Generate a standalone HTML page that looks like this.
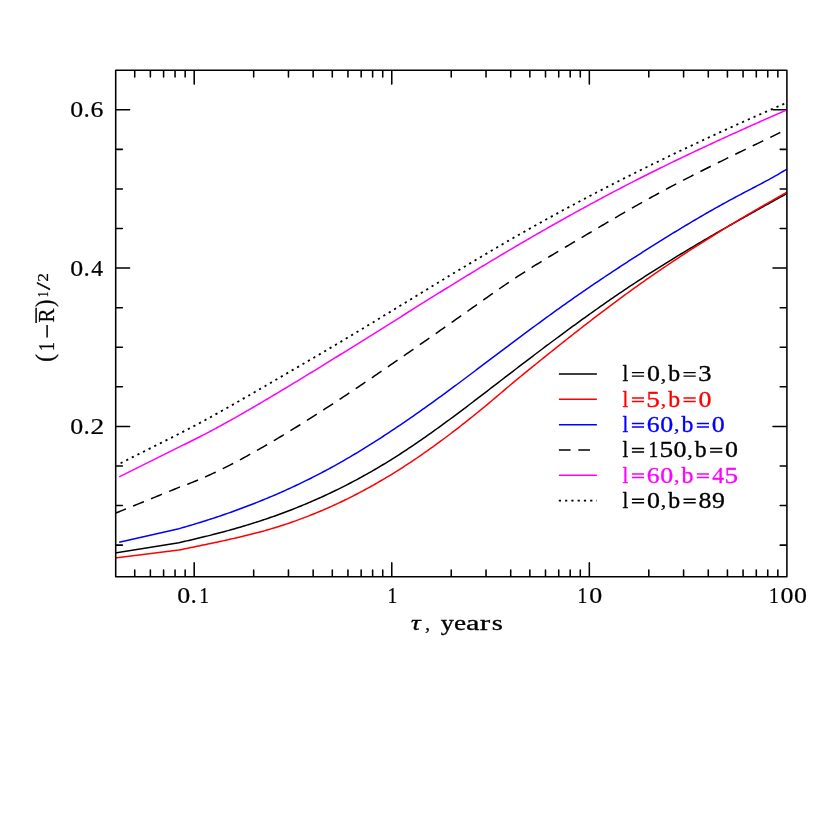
<!DOCTYPE html>
<html><head><meta charset="utf-8"><title>chart</title>
<style>html,body{margin:0;padding:0;background:#fff;}body{width:830px;height:830px;overflow:hidden;font-family:"Liberation Serif",serif;}svg{display:block;will-change:transform;}</style>
</head><body>
<svg width="830" height="830" viewBox="0 0 830 830">
<rect width="830" height="830" fill="#fff"/>
<path d="M134.73 576.10v-6.00M134.73 70.90v6.00M150.37 576.10v-6.00M150.37 70.90v6.00M163.60 576.10v-6.00M163.60 70.90v6.00M175.05 576.10v-6.00M175.05 70.90v6.00M185.16 576.10v-6.00M185.16 70.90v6.00M194.20 576.10v-13.20M194.20 70.90v13.20M253.67 576.10v-6.00M253.67 70.90v6.00M288.46 576.10v-6.00M288.46 70.90v6.00M313.15 576.10v-6.00M313.15 70.90v6.00M332.29 576.10v-6.00M332.29 70.90v6.00M347.94 576.10v-6.00M347.94 70.90v6.00M361.16 576.10v-6.00M361.16 70.90v6.00M372.62 576.10v-6.00M372.62 70.90v6.00M382.73 576.10v-6.00M382.73 70.90v6.00M391.77 576.10v-13.20M391.77 70.90v13.20M451.24 576.10v-6.00M451.24 70.90v6.00M486.03 576.10v-6.00M486.03 70.90v6.00M510.71 576.10v-6.00M510.71 70.90v6.00M529.86 576.10v-6.00M529.86 70.90v6.00M545.50 576.10v-6.00M545.50 70.90v6.00M558.73 576.10v-6.00M558.73 70.90v6.00M570.19 576.10v-6.00M570.19 70.90v6.00M580.29 576.10v-6.00M580.29 70.90v6.00M589.33 576.10v-13.20M589.33 70.90v13.20M648.81 576.10v-6.00M648.81 70.90v6.00M683.60 576.10v-6.00M683.60 70.90v6.00M708.28 576.10v-6.00M708.28 70.90v6.00M727.43 576.10v-6.00M727.43 70.90v6.00M743.07 576.10v-6.00M743.07 70.90v6.00M756.30 576.10v-6.00M756.30 70.90v6.00M767.75 576.10v-6.00M767.75 70.90v6.00M777.86 576.10v-6.00M777.86 70.90v6.00M116.40 545.14h6.00M786.20 545.14h-6.00M116.40 505.56h6.00M786.20 505.56h-6.00M116.40 465.98h6.00M786.20 465.98h-6.00M116.40 426.40h13.20M786.20 426.40h-13.20M116.40 386.82h6.00M786.20 386.82h-6.00M116.40 347.25h6.00M786.20 347.25h-6.00M116.40 307.67h6.00M786.20 307.67h-6.00M116.40 268.09h13.20M786.20 268.09h-13.20M116.40 228.51h6.00M786.20 228.51h-6.00M116.40 188.93h6.00M786.20 188.93h-6.00M116.40 149.36h6.00M786.20 149.36h-6.00M116.40 109.78h13.20M786.20 109.78h-13.20" stroke="#000" stroke-width="1.55" stroke-linecap="round" fill="none"/>
<defs><clipPath id="cp"><rect x="115.7" y="70.2" width="671.1999999999999" height="506.59999999999997"/></clipPath></defs>
<g clip-path="url(#cp)"><path d="M120.60 463.20L122.60 462.20L124.60 461.19L126.60 460.19L128.60 459.18L130.60 458.18L132.60 457.17L134.60 456.17L136.60 455.16L138.60 454.16L140.60 453.15L142.60 452.15L144.60 451.14L146.60 450.14L148.60 449.13L150.60 448.12L152.60 447.12L154.60 446.11L156.60 445.11L158.60 444.10L160.60 443.10L162.60 442.09L164.60 441.09L166.60 440.08L168.60 439.08L170.60 438.07L172.60 437.07L174.60 436.06L176.60 435.06L178.60 434.05L178.90 433.90L180.90 432.88L182.90 431.86L184.90 430.83L186.90 429.79L188.90 428.74L190.90 427.70L192.90 426.64L194.90 425.58L196.90 424.52L198.90 423.45L200.90 422.37L202.90 421.29L204.90 420.21L206.90 419.12L208.90 418.02L210.90 416.93L212.90 415.82L214.90 414.72L216.90 413.61L218.90 412.49L220.90 411.38L222.90 410.26L224.90 409.13L226.90 408.00L228.90 406.87L230.90 405.74L232.90 404.60L234.90 403.47L236.90 402.32L238.90 401.18L240.90 400.03L242.90 398.89L244.90 397.74L246.90 396.59L248.90 395.43L250.90 394.28L252.90 393.12L254.90 391.96L256.90 390.80L258.90 389.64L260.90 388.48L262.90 387.32L264.90 386.16L266.90 385.00L268.90 383.83L270.90 382.67L272.90 381.51L274.90 380.35L276.90 379.18L278.90 378.02L280.90 376.86L282.90 375.69L284.90 374.53L286.90 373.37L288.90 372.21L290.90 371.04L292.90 369.88L294.90 368.72L296.90 367.55L298.90 366.39L300.90 365.22L302.90 364.05L304.90 362.89L306.90 361.72L308.90 360.55L310.90 359.38L312.90 358.21L314.90 357.04L316.90 355.86L318.90 354.69L320.90 353.51L322.90 352.34L324.90 351.16L326.90 349.98L328.90 348.80L330.90 347.61L332.90 346.43L334.90 345.24L336.90 344.05L338.90 342.86L340.90 341.67L342.90 340.48L344.90 339.28L346.90 338.09L348.90 336.89L350.90 335.69L352.90 334.48L354.90 333.28L356.90 332.08L358.90 330.87L360.90 329.66L362.90 328.46L364.90 327.25L366.90 326.04L368.90 324.82L370.90 323.61L372.90 322.40L374.90 321.18L376.90 319.97L378.90 318.75L380.90 317.54L382.90 316.32L384.90 315.10L386.90 313.88L388.90 312.66L390.90 311.44L392.90 310.22L394.90 309.00L396.90 307.78L398.90 306.56L400.90 305.34L402.90 304.12L404.90 302.90L406.90 301.67L408.90 300.45L410.90 299.23L412.90 298.01L414.90 296.79L416.90 295.57L418.90 294.35L420.90 293.12L422.90 291.90L424.90 290.68L426.90 289.47L428.90 288.25L430.90 287.03L432.90 285.81L434.90 284.59L436.90 283.38L438.90 282.16L440.90 280.95L442.90 279.73L444.90 278.52L446.90 277.31L448.90 276.10L450.90 274.89L452.90 273.68L454.90 272.47L456.90 271.27L458.90 270.06L460.90 268.86L462.90 267.66L464.90 266.45L466.90 265.26L468.90 264.06L470.90 262.86L472.90 261.67L474.90 260.47L476.90 259.28L478.90 258.09L480.90 256.91L482.90 255.72L484.90 254.54L486.90 253.36L488.90 252.18L490.90 251.00L492.90 249.83L494.90 248.65L496.90 247.48L498.90 246.31L500.90 245.15L502.90 243.99L504.90 242.82L506.90 241.67L508.90 240.51L510.90 239.36L512.90 238.21L514.90 237.06L516.90 235.91L518.90 234.77L520.90 233.63L522.90 232.50L524.90 231.36L526.90 230.23L528.90 229.10L530.90 227.98L532.90 226.86L534.90 225.74L536.90 224.62L538.90 223.50L540.90 222.39L542.90 221.28L544.90 220.18L546.90 219.07L548.90 217.97L550.90 216.87L552.90 215.78L554.90 214.68L556.90 213.59L558.90 212.50L560.90 211.42L562.90 210.33L564.90 209.25L566.90 208.17L568.90 207.10L570.90 206.03L572.90 204.96L574.90 203.89L576.90 202.82L578.90 201.76L580.90 200.70L582.90 199.64L584.90 198.58L586.90 197.53L588.90 196.48L590.90 195.43L592.90 194.38L594.90 193.34L596.90 192.30L598.90 191.26L600.90 190.22L602.90 189.19L604.90 188.16L606.90 187.13L608.90 186.10L610.90 185.07L612.90 184.05L614.90 183.03L616.90 182.01L618.90 181.00L620.90 179.98L622.90 178.97L624.90 177.96L626.90 176.95L628.90 175.95L630.90 174.95L632.90 173.95L634.90 172.95L636.90 171.95L638.90 170.96L640.90 169.97L642.90 168.98L644.90 167.99L646.90 167.00L648.90 166.02L650.90 165.04L652.90 164.06L654.90 163.08L656.90 162.11L658.90 161.13L660.90 160.16L662.90 159.19L664.90 158.23L666.90 157.26L668.90 156.30L670.90 155.34L672.90 154.38L674.90 153.42L676.90 152.46L678.90 151.51L680.90 150.56L682.90 149.61L684.90 148.66L686.90 147.72L688.90 146.77L690.90 145.83L692.90 144.89L694.90 143.95L696.90 143.02L698.90 142.08L700.90 141.15L702.90 140.22L704.90 139.29L706.90 138.36L708.90 137.44L710.90 136.51L712.90 135.59L714.90 134.67L716.90 133.75L718.90 132.83L720.90 131.92L722.90 131.00L724.90 130.09L726.90 129.18L728.90 128.27L730.90 127.37L732.90 126.46L734.90 125.56L736.90 124.66L738.90 123.76L740.90 122.86L742.90 121.96L744.90 121.06L746.90 120.17L748.90 119.28L750.90 118.39L752.90 117.50L754.90 116.61L756.90 115.72L758.90 114.84L760.90 113.96L762.90 113.07L764.90 112.19L766.90 111.31L768.90 110.44L770.90 109.56L772.90 108.69L774.90 107.81L776.90 106.94L778.90 106.07L780.90 105.20L782.90 104.33L784.90 103.47L786.90 102.60L787.00 102.56" stroke="#000" stroke-width="1.8" stroke-linejoin="round" fill="none" stroke-dasharray="2.2 4.0772"/><path d="M119.20 476.90L178.90 447.10L180.90 446.15L182.90 445.19L184.90 444.23L186.90 443.25L188.90 442.27L190.90 441.28L192.90 440.28L194.90 439.27L196.90 438.26L198.90 437.24L200.90 436.21L202.90 435.18L204.90 434.14L206.90 433.09L208.90 432.04L210.90 430.98L212.90 429.91L214.90 428.84L216.90 427.76L218.90 426.68L220.90 425.59L222.90 424.49L224.90 423.39L226.90 422.28L228.90 421.17L230.90 420.05L232.90 418.93L234.90 417.81L236.90 416.68L238.90 415.54L240.90 414.40L242.90 413.26L244.90 412.11L246.90 410.96L248.90 409.80L250.90 408.65L252.90 407.48L254.90 406.32L256.90 405.15L258.90 403.98L260.90 402.80L262.90 401.62L264.90 400.44L266.90 399.26L268.90 398.07L270.90 396.88L272.90 395.69L274.90 394.50L276.90 393.31L278.90 392.11L280.90 390.91L282.90 389.71L284.90 388.51L286.90 387.31L288.90 386.10L290.90 384.90L292.90 383.69L294.90 382.48L296.90 381.27L298.90 380.05L300.90 378.84L302.90 377.62L304.90 376.41L306.90 375.19L308.90 373.97L310.90 372.74L312.90 371.52L314.90 370.30L316.90 369.07L318.90 367.84L320.90 366.61L322.90 365.38L324.90 364.15L326.90 362.92L328.90 361.69L330.90 360.45L332.90 359.22L334.90 357.98L336.90 356.74L338.90 355.50L340.90 354.26L342.90 353.02L344.90 351.78L346.90 350.54L348.90 349.30L350.90 348.05L352.90 346.81L354.90 345.56L356.90 344.32L358.90 343.07L360.90 341.82L362.90 340.57L364.90 339.32L366.90 338.07L368.90 336.82L370.90 335.57L372.90 334.32L374.90 333.07L376.90 331.82L378.90 330.56L380.90 329.31L382.90 328.06L384.90 326.80L386.90 325.55L388.90 324.29L390.90 323.04L392.90 321.78L394.90 320.53L396.90 319.27L398.90 318.02L400.90 316.76L402.90 315.51L404.90 314.25L406.90 313.00L408.90 311.74L410.90 310.49L412.90 309.23L414.90 307.98L416.90 306.72L418.90 305.47L420.90 304.22L422.90 302.97L424.90 301.72L426.90 300.46L428.90 299.21L430.90 297.97L432.90 296.72L434.90 295.47L436.90 294.23L438.90 292.98L440.90 291.74L442.90 290.50L444.90 289.25L446.90 288.01L448.90 286.78L450.90 285.54L452.90 284.30L454.90 283.07L456.90 281.84L458.90 280.61L460.90 279.38L462.90 278.16L464.90 276.93L466.90 275.71L468.90 274.49L470.90 273.27L472.90 272.05L474.90 270.83L476.90 269.62L478.90 268.41L480.90 267.20L482.90 265.99L484.90 264.78L486.90 263.58L488.90 262.38L490.90 261.18L492.90 259.98L494.90 258.78L496.90 257.59L498.90 256.39L500.90 255.20L502.90 254.01L504.90 252.83L506.90 251.64L508.90 250.46L510.90 249.28L512.90 248.10L514.90 246.93L516.90 245.75L518.90 244.58L520.90 243.41L522.90 242.24L524.90 241.08L526.90 239.91L528.90 238.75L530.90 237.59L532.90 236.44L534.90 235.28L536.90 234.13L538.90 232.98L540.90 231.84L542.90 230.69L544.90 229.55L546.90 228.41L548.90 227.27L550.90 226.14L552.90 225.00L554.90 223.87L556.90 222.74L558.90 221.62L560.90 220.50L562.90 219.38L564.90 218.26L566.90 217.14L568.90 216.03L570.90 214.92L572.90 213.81L574.90 212.70L576.90 211.60L578.90 210.50L580.90 209.40L582.90 208.31L584.90 207.22L586.90 206.13L588.90 205.04L590.90 203.95L592.90 202.87L594.90 201.79L596.90 200.72L598.90 199.64L600.90 198.57L602.90 197.51L604.90 196.44L606.90 195.38L608.90 194.32L610.90 193.26L612.90 192.21L614.90 191.16L616.90 190.11L618.90 189.06L620.90 188.02L622.90 186.98L624.90 185.95L626.90 184.91L628.90 183.88L630.90 182.85L632.90 181.83L634.90 180.81L636.90 179.79L638.90 178.77L640.90 177.76L642.90 176.75L644.90 175.75L646.90 174.74L648.90 173.74L650.90 172.74L652.90 171.75L654.90 170.75L656.90 169.77L658.90 168.78L660.90 167.79L662.90 166.81L664.90 165.83L666.90 164.86L668.90 163.88L670.90 162.91L672.90 161.94L674.90 160.97L676.90 160.01L678.90 159.05L680.90 158.09L682.90 157.13L684.90 156.18L686.90 155.22L688.90 154.27L690.90 153.33L692.90 152.38L694.90 151.44L696.90 150.49L698.90 149.55L700.90 148.62L702.90 147.68L704.90 146.75L706.90 145.82L708.90 144.89L710.90 143.96L712.90 143.03L714.90 142.11L716.90 141.19L718.90 140.27L720.90 139.35L722.90 138.43L724.90 137.52L726.90 136.60L728.90 135.69L730.90 134.78L732.90 133.87L734.90 132.97L736.90 132.06L738.90 131.16L740.90 130.25L742.90 129.35L744.90 128.45L746.90 127.55L748.90 126.66L750.90 125.76L752.90 124.87L754.90 123.97L756.90 123.08L758.90 122.19L760.90 121.30L762.90 120.41L764.90 119.53L766.90 118.64L768.90 117.75L770.90 116.87L772.90 115.99L774.90 115.10L776.90 114.22L778.90 113.34L780.90 112.46L782.90 111.58L784.90 110.71L786.90 109.83" stroke="#f0f" stroke-width="1.5" stroke-linejoin="round" fill="none" /><path d="M115.10 513.36L117.10 512.55L119.10 511.73L121.10 510.92L123.10 510.11L125.10 509.29L127.10 508.48L129.10 507.66L131.10 506.85L133.10 506.04L135.10 505.22L137.10 504.41L139.10 503.60L141.10 502.78L143.10 501.97L145.10 501.15L147.10 500.34L149.10 499.53L151.10 498.71L153.10 497.90L155.10 497.09L157.10 496.27L159.10 495.46L161.10 494.65L163.10 493.83L165.10 493.02L167.10 492.20L169.10 491.39L171.10 490.58L173.10 489.76L175.10 488.95L177.10 488.14L178.90 487.40L180.90 486.69L182.90 485.97L184.90 485.23L186.90 484.47L188.90 483.70L190.90 482.92L192.90 482.12L194.90 481.31L196.90 480.48L198.90 479.64L200.90 478.79L202.90 477.92L204.90 477.04L206.90 476.15L208.90 475.24L210.90 474.33L212.90 473.40L214.90 472.46L216.90 471.51L218.90 470.55L220.90 469.57L222.90 468.59L224.90 467.59L226.90 466.59L228.90 465.57L230.90 464.55L232.90 463.52L234.90 462.47L236.90 461.42L238.90 460.36L240.90 459.29L242.90 458.22L244.90 457.13L246.90 456.04L248.90 454.94L250.90 453.83L252.90 452.72L254.90 451.60L256.90 450.47L258.90 449.34L260.90 448.20L262.90 447.06L264.90 445.90L266.90 444.75L268.90 443.58L270.90 442.42L272.90 441.24L274.90 440.06L276.90 438.88L278.90 437.69L280.90 436.49L282.90 435.29L284.90 434.08L286.90 432.87L288.90 431.66L290.90 430.43L292.90 429.21L294.90 427.98L296.90 426.74L298.90 425.50L300.90 424.26L302.90 423.01L304.90 421.75L306.90 420.50L308.90 419.23L310.90 417.97L312.90 416.70L314.90 415.42L316.90 414.14L318.90 412.86L320.90 411.58L322.90 410.29L324.90 408.99L326.90 407.70L328.90 406.40L330.90 405.09L332.90 403.79L334.90 402.48L336.90 401.16L338.90 399.85L340.90 398.53L342.90 397.21L344.90 395.88L346.90 394.55L348.90 393.22L350.90 391.89L352.90 390.55L354.90 389.21L356.90 387.87L358.90 386.53L360.90 385.18L362.90 383.83L364.90 382.48L366.90 381.13L368.90 379.78L370.90 378.42L372.90 377.06L374.90 375.70L376.90 374.33L378.90 372.97L380.90 371.60L382.90 370.23L384.90 368.86L386.90 367.49L388.90 366.12L390.90 364.74L392.90 363.37L394.90 361.99L396.90 360.61L398.90 359.23L400.90 357.85L402.90 356.47L404.90 355.08L406.90 353.70L408.90 352.31L410.90 350.92L412.90 349.54L414.90 348.15L416.90 346.76L418.90 345.36L420.90 343.97L422.90 342.58L424.90 341.18L426.90 339.78L428.90 338.39L430.90 336.99L432.90 335.59L434.90 334.19L436.90 332.79L438.90 331.39L440.90 329.98L442.90 328.58L444.90 327.18L446.90 325.77L448.90 324.36L450.90 322.96L452.90 321.55L454.90 320.14L456.90 318.73L458.90 317.32L460.90 315.91L462.90 314.50L464.90 313.09L466.90 311.68L468.90 310.26L470.90 308.85L472.90 307.44L474.90 306.02L476.90 304.61L478.90 303.19L480.90 301.77L482.90 300.36L484.90 298.95L486.90 297.53L488.90 296.12L490.90 294.72L492.90 293.31L494.90 291.92L496.90 290.52L498.90 289.13L500.90 287.75L502.90 286.37L504.90 285.00L506.90 283.64L508.90 282.28L510.90 280.93L512.90 279.60L514.90 278.27L516.90 276.95L518.90 275.64L520.90 274.34L522.90 273.05L524.90 271.77L526.90 270.50L528.90 269.23L530.90 267.98L532.90 266.73L534.90 265.48L536.90 264.25L538.90 263.02L540.90 261.79L542.90 260.58L544.90 259.36L546.90 258.15L548.90 256.95L550.90 255.75L552.90 254.55L554.90 253.36L556.90 252.17L558.90 250.98L560.90 249.79L562.90 248.61L564.90 247.43L566.90 246.24L568.90 245.06L570.90 243.88L572.90 242.70L574.90 241.52L576.90 240.34L578.90 239.16L580.90 237.98L582.90 236.79L584.90 235.61L586.90 234.43L588.90 233.24L590.90 232.06L592.90 230.88L594.90 229.70L596.90 228.52L598.90 227.34L600.90 226.16L602.90 224.98L604.90 223.81L606.90 222.63L608.90 221.46L610.90 220.29L612.90 219.12L614.90 217.95L616.90 216.79L618.90 215.63L620.90 214.47L622.90 213.31L624.90 212.16L626.90 211.01L628.90 209.87L630.90 208.72L632.90 207.58L634.90 206.45L636.90 205.32L638.90 204.19L640.90 203.07L642.90 201.95L644.90 200.83L646.90 199.72L648.90 198.61L650.90 197.51L652.90 196.41L654.90 195.32L656.90 194.22L658.90 193.14L660.90 192.06L662.90 190.98L664.90 189.90L666.90 188.83L668.90 187.77L670.90 186.71L672.90 185.65L674.90 184.60L676.90 183.55L678.90 182.50L680.90 181.46L682.90 180.42L684.90 179.39L686.90 178.36L688.90 177.33L690.90 176.31L692.90 175.29L694.90 174.27L696.90 173.26L698.90 172.25L700.90 171.24L702.90 170.24L704.90 169.23L706.90 168.23L708.90 167.24L710.90 166.24L712.90 165.25L714.90 164.26L716.90 163.27L718.90 162.29L720.90 161.30L722.90 160.32L724.90 159.34L726.90 158.36L728.90 157.38L730.90 156.41L732.90 155.43L734.90 154.46L736.90 153.49L738.90 152.52L740.90 151.55L742.90 150.58L744.90 149.61L746.90 148.64L748.90 147.68L750.90 146.71L752.90 145.74L754.90 144.78L756.90 143.81L758.90 142.85L760.90 141.88L762.90 140.92L764.90 139.95L766.90 138.99L768.90 138.02L770.90 137.06L772.90 136.09L774.90 135.12L776.90 134.16L778.90 133.19L780.30 132.51" stroke="#000" stroke-width="1.5" stroke-linejoin="round" fill="none" stroke-dasharray="11.7 7.72"/><path d="M119.20 542.30L178.90 528.70L180.90 528.13L182.90 527.56L184.90 526.98L186.90 526.40L188.90 525.81L190.90 525.22L192.90 524.62L194.90 524.01L196.90 523.40L198.90 522.79L200.90 522.17L202.90 521.54L204.90 520.91L206.90 520.28L208.90 519.64L210.90 518.99L212.90 518.34L214.90 517.68L216.90 517.01L218.90 516.34L220.90 515.67L222.90 514.98L224.90 514.29L226.90 513.60L228.90 512.90L230.90 512.19L232.90 511.48L234.90 510.76L236.90 510.04L238.90 509.30L240.90 508.56L242.90 507.82L244.90 507.07L246.90 506.31L248.90 505.54L250.90 504.77L252.90 503.99L254.90 503.21L256.90 502.42L258.90 501.62L260.90 500.81L262.90 500.00L264.90 499.18L266.90 498.35L268.90 497.52L270.90 496.67L272.90 495.82L274.90 494.97L276.90 494.10L278.90 493.23L280.90 492.35L282.90 491.46L284.90 490.57L286.90 489.67L288.90 488.76L290.90 487.84L292.90 486.91L294.90 485.98L296.90 485.04L298.90 484.09L300.90 483.13L302.90 482.16L304.90 481.19L306.90 480.20L308.90 479.21L310.90 478.21L312.90 477.20L314.90 476.19L316.90 475.16L318.90 474.13L320.90 473.08L322.90 472.03L324.90 470.97L326.90 469.90L328.90 468.83L330.90 467.74L332.90 466.64L334.90 465.54L336.90 464.42L338.90 463.30L340.90 462.17L342.90 461.03L344.90 459.88L346.90 458.72L348.90 457.55L350.90 456.38L352.90 455.19L354.90 454.00L356.90 452.80L358.90 451.59L360.90 450.38L362.90 449.15L364.90 447.92L366.90 446.68L368.90 445.43L370.90 444.18L372.90 442.92L374.90 441.65L376.90 440.37L378.90 439.08L380.90 437.79L382.90 436.50L384.90 435.19L386.90 433.88L388.90 432.56L390.90 431.24L392.90 429.91L394.90 428.57L396.90 427.22L398.90 425.87L400.90 424.52L402.90 423.16L404.90 421.79L406.90 420.42L408.90 419.04L410.90 417.65L412.90 416.26L414.90 414.86L416.90 413.46L418.90 412.06L420.90 410.65L422.90 409.23L424.90 407.81L426.90 406.38L428.90 404.95L430.90 403.52L432.90 402.08L434.90 400.63L436.90 399.18L438.90 397.73L440.90 396.27L442.90 394.81L444.90 393.35L446.90 391.88L448.90 390.40L450.90 388.93L452.90 387.45L454.90 385.96L456.90 384.48L458.90 382.99L460.90 381.49L462.90 380.00L464.90 378.50L466.90 377.00L468.90 375.50L470.90 373.99L472.90 372.49L474.90 370.98L476.90 369.47L478.90 367.96L480.90 366.45L482.90 364.94L484.90 363.43L486.90 361.92L488.90 360.41L490.90 358.90L492.90 357.39L494.90 355.88L496.90 354.37L498.90 352.86L500.90 351.36L502.90 349.85L504.90 348.35L506.90 346.84L508.90 345.34L510.90 343.84L512.90 342.34L514.90 340.85L516.90 339.35L518.90 337.86L520.90 336.37L522.90 334.88L524.90 333.39L526.90 331.91L528.90 330.43L530.90 328.95L532.90 327.47L534.90 326.00L536.90 324.52L538.90 323.06L540.90 321.59L542.90 320.13L544.90 318.67L546.90 317.21L548.90 315.76L550.90 314.31L552.90 312.86L554.90 311.42L556.90 309.98L558.90 308.55L560.90 307.12L562.90 305.69L564.90 304.27L566.90 302.85L568.90 301.44L570.90 300.03L572.90 298.62L574.90 297.22L576.90 295.83L578.90 294.44L580.90 293.05L582.90 291.67L584.90 290.29L586.90 288.92L588.90 287.55L590.90 286.19L592.90 284.83L594.90 283.47L596.90 282.12L598.90 280.77L600.90 279.43L602.90 278.09L604.90 276.75L606.90 275.42L608.90 274.09L610.90 272.77L612.90 271.45L614.90 270.13L616.90 268.81L618.90 267.50L620.90 266.19L622.90 264.89L624.90 263.59L626.90 262.29L628.90 260.99L630.90 259.70L632.90 258.41L634.90 257.12L636.90 255.83L638.90 254.55L640.90 253.27L642.90 251.99L644.90 250.72L646.90 249.45L648.90 248.18L650.90 246.91L652.90 245.65L654.90 244.39L656.90 243.14L658.90 241.88L660.90 240.64L662.90 239.39L664.90 238.15L666.90 236.91L668.90 235.68L670.90 234.45L672.90 233.22L674.90 232.00L676.90 230.78L678.90 229.56L680.90 228.35L682.90 227.15L684.90 225.95L686.90 224.75L688.90 223.55L690.90 222.37L692.90 221.18L694.90 220.00L696.90 218.83L698.90 217.66L700.90 216.49L702.90 215.33L704.90 214.17L706.90 213.02L708.90 211.88L710.90 210.74L712.90 209.60L714.90 208.47L716.90 207.35L718.90 206.23L720.90 205.11L722.90 204.01L724.90 202.90L726.90 201.81L728.90 200.71L730.90 199.63L732.90 198.55L734.90 197.48L736.90 196.41L738.90 195.35L740.90 194.29L742.90 193.24L744.90 192.20L746.90 191.15L748.90 190.11L750.90 189.07L752.90 188.03L754.90 186.99L756.90 185.95L758.90 184.90L760.90 183.84L762.90 182.78L764.90 181.71L766.90 180.63L768.90 179.54L770.90 178.43L772.90 177.32L774.90 176.19L776.90 175.04L778.90 173.88L780.90 172.70L782.90 171.50L784.90 170.28L786.90 169.03" stroke="#00f" stroke-width="1.5" stroke-linejoin="round" fill="none" /><path d="M112.30 553.45L178.90 542.65L180.90 542.21L182.90 541.76L184.90 541.31L186.90 540.86L188.90 540.40L190.90 539.94L192.90 539.48L194.90 539.01L196.90 538.54L198.90 538.06L200.90 537.58L202.90 537.09L204.90 536.60L206.90 536.11L208.90 535.61L210.90 535.11L212.90 534.60L214.90 534.09L216.90 533.57L218.90 533.05L220.90 532.52L222.90 531.99L224.90 531.45L226.90 530.90L228.90 530.35L230.90 529.80L232.90 529.24L234.90 528.67L236.90 528.09L238.90 527.51L240.90 526.93L242.90 526.34L244.90 525.74L246.90 525.13L248.90 524.52L250.90 523.90L252.90 523.28L254.90 522.65L256.90 522.01L258.90 521.36L260.90 520.71L262.90 520.05L264.90 519.38L266.90 518.70L268.90 518.02L270.90 517.33L272.90 516.63L274.90 515.92L276.90 515.20L278.90 514.48L280.90 513.75L282.90 513.01L284.90 512.26L286.90 511.51L288.90 510.74L290.90 509.97L292.90 509.19L294.90 508.40L296.90 507.60L298.90 506.80L300.90 505.98L302.90 505.16L304.90 504.33L306.90 503.49L308.90 502.64L310.90 501.78L312.90 500.91L314.90 500.04L316.90 499.15L318.90 498.26L320.90 497.36L322.90 496.45L324.90 495.53L326.90 494.60L328.90 493.66L330.90 492.71L332.90 491.76L334.90 490.79L336.90 489.82L338.90 488.83L340.90 487.84L342.90 486.84L344.90 485.82L346.90 484.80L348.90 483.77L350.90 482.73L352.90 481.68L354.90 480.62L356.90 479.55L358.90 478.47L360.90 477.38L362.90 476.28L364.90 475.18L366.90 474.06L368.90 472.93L370.90 471.79L372.90 470.64L374.90 469.48L376.90 468.32L378.90 467.14L380.90 465.95L382.90 464.75L384.90 463.54L386.90 462.32L388.90 461.09L390.90 459.85L392.90 458.60L394.90 457.34L396.90 456.07L398.90 454.79L400.90 453.50L402.90 452.20L404.90 450.88L406.90 449.56L408.90 448.23L410.90 446.89L412.90 445.55L414.90 444.19L416.90 442.83L418.90 441.45L420.90 440.07L422.90 438.68L424.90 437.29L426.90 435.88L428.90 434.47L430.90 433.05L432.90 431.63L434.90 430.19L436.90 428.76L438.90 427.31L440.90 425.86L442.90 424.40L444.90 422.94L446.90 421.47L448.90 420.00L450.90 418.52L452.90 417.04L454.90 415.55L456.90 414.06L458.90 412.56L460.90 411.06L462.90 409.56L464.90 408.05L466.90 406.54L468.90 405.02L470.90 403.51L472.90 401.99L474.90 400.46L476.90 398.94L478.90 397.41L480.90 395.88L482.90 394.35L484.90 392.81L486.90 391.28L488.90 389.74L490.90 388.21L492.90 386.67L494.90 385.13L496.90 383.59L498.90 382.05L500.90 380.51L502.90 378.97L504.90 377.44L506.90 375.90L508.90 374.36L510.90 372.82L512.90 371.29L514.90 369.76L516.90 368.22L518.90 366.69L520.90 365.16L522.90 363.64L524.90 362.11L526.90 360.59L528.90 359.07L530.90 357.55L532.90 356.03L534.90 354.52L536.90 353.00L538.90 351.49L540.90 349.98L542.90 348.48L544.90 346.97L546.90 345.47L548.90 343.98L550.90 342.48L552.90 340.99L554.90 339.50L556.90 338.01L558.90 336.53L560.90 335.05L562.90 333.57L564.90 332.10L566.90 330.63L568.90 329.16L570.90 327.69L572.90 326.23L574.90 324.77L576.90 323.32L578.90 321.87L580.90 320.42L582.90 318.98L584.90 317.54L586.90 316.11L588.90 314.67L590.90 313.25L592.90 311.82L594.90 310.41L596.90 308.99L598.90 307.58L600.90 306.17L602.90 304.77L604.90 303.38L606.90 301.98L608.90 300.60L610.90 299.21L612.90 297.83L614.90 296.46L616.90 295.09L618.90 293.73L620.90 292.37L622.90 291.02L624.90 289.67L626.90 288.32L628.90 286.99L630.90 285.65L632.90 284.33L634.90 283.00L636.90 281.69L638.90 280.38L640.90 279.07L642.90 277.77L644.90 276.48L646.90 275.19L648.90 273.90L650.90 272.62L652.90 271.35L654.90 270.08L656.90 268.82L658.90 267.56L660.90 266.30L662.90 265.05L664.90 263.81L666.90 262.56L668.90 261.33L670.90 260.09L672.90 258.87L674.90 257.64L676.90 256.42L678.90 255.21L680.90 253.99L682.90 252.79L684.90 251.58L686.90 250.38L688.90 249.18L690.90 247.99L692.90 246.80L694.90 245.61L696.90 244.43L698.90 243.25L700.90 242.07L702.90 240.90L704.90 239.73L706.90 238.56L708.90 237.40L710.90 236.24L712.90 235.08L714.90 233.92L716.90 232.77L718.90 231.62L720.90 230.47L722.90 229.33L724.90 228.18L726.90 227.04L728.90 225.90L730.90 224.77L732.90 223.63L734.90 222.50L736.90 221.37L738.90 220.24L740.90 219.11L742.90 217.99L744.90 216.87L746.90 215.74L748.90 214.62L750.90 213.50L752.90 212.39L754.90 211.27L756.90 210.16L758.90 209.04L760.90 207.93L762.90 206.82L764.90 205.71L766.90 204.60L768.90 203.49L770.90 202.38L772.90 201.27L774.90 200.16L776.90 199.06L778.90 197.95L780.90 196.84L782.90 195.74L784.90 194.63L786.90 193.53" stroke="#000" stroke-width="1.5" stroke-linejoin="round" fill="none" /><path d="M112.30 558.42L178.90 550.10L180.90 549.67L182.90 549.25L184.90 548.83L186.90 548.41L188.90 547.99L190.90 547.57L192.90 547.16L194.90 546.74L196.90 546.33L198.90 545.91L200.90 545.50L202.90 545.08L204.90 544.67L206.90 544.25L208.90 543.83L210.90 543.41L212.90 542.99L214.90 542.57L216.90 542.15L218.90 541.72L220.90 541.29L222.90 540.86L224.90 540.42L226.90 539.98L228.90 539.54L230.90 539.09L232.90 538.64L234.90 538.18L236.90 537.72L238.90 537.26L240.90 536.78L242.90 536.31L244.90 535.82L246.90 535.33L248.90 534.84L250.90 534.34L252.90 533.83L254.90 533.31L256.90 532.79L258.90 532.25L260.90 531.72L262.90 531.17L264.90 530.61L266.90 530.04L268.90 529.47L270.90 528.89L272.90 528.29L274.90 527.69L276.90 527.07L278.90 526.45L280.90 525.82L282.90 525.17L284.90 524.52L286.90 523.85L288.90 523.18L290.90 522.49L292.90 521.79L294.90 521.09L296.90 520.37L298.90 519.65L300.90 518.91L302.90 518.16L304.90 517.40L306.90 516.63L308.90 515.86L310.90 515.07L312.90 514.27L314.90 513.46L316.90 512.64L318.90 511.80L320.90 510.96L322.90 510.11L324.90 509.25L326.90 508.38L328.90 507.49L330.90 506.60L332.90 505.69L334.90 504.78L336.90 503.85L338.90 502.92L340.90 501.97L342.90 501.01L344.90 500.04L346.90 499.06L348.90 498.07L350.90 497.07L352.90 496.06L354.90 495.04L356.90 494.01L358.90 492.96L360.90 491.91L362.90 490.85L364.90 489.77L366.90 488.68L368.90 487.59L370.90 486.48L372.90 485.36L374.90 484.23L376.90 483.09L378.90 481.94L380.90 480.77L382.90 479.60L384.90 478.42L386.90 477.22L388.90 476.02L390.90 474.80L392.90 473.57L394.90 472.33L396.90 471.08L398.90 469.82L400.90 468.55L402.90 467.27L404.90 465.97L406.90 464.67L408.90 463.36L410.90 462.03L412.90 460.70L414.90 459.35L416.90 458.00L418.90 456.63L420.90 455.26L422.90 453.87L424.90 452.47L426.90 451.07L428.90 449.66L430.90 448.23L432.90 446.80L434.90 445.35L436.90 443.90L438.90 442.44L440.90 440.97L442.90 439.49L444.90 438.00L446.90 436.50L448.90 435.00L450.90 433.48L452.90 431.96L454.90 430.42L456.90 428.88L458.90 427.33L460.90 425.78L462.90 424.21L464.90 422.63L466.90 421.05L468.90 419.46L470.90 417.86L472.90 416.26L474.90 414.64L476.90 413.02L478.90 411.39L480.90 409.76L482.90 408.11L484.90 406.46L486.90 404.80L488.90 403.14L490.90 401.46L492.90 399.78L494.90 398.10L496.90 396.41L498.90 394.71L500.90 393.01L502.90 391.31L504.90 389.61L506.90 387.92L508.90 386.22L510.90 384.53L512.90 382.85L514.90 381.18L516.90 379.51L518.90 377.85L520.90 376.21L522.90 374.56L524.90 372.93L526.90 371.30L528.90 369.67L530.90 368.05L532.90 366.44L534.90 364.83L536.90 363.22L538.90 361.61L540.90 360.00L542.90 358.39L544.90 356.79L546.90 355.19L548.90 353.58L550.90 351.98L552.90 350.38L554.90 348.79L556.90 347.19L558.90 345.60L560.90 344.01L562.90 342.42L564.90 340.83L566.90 339.25L568.90 337.67L570.90 336.09L572.90 334.52L574.90 332.94L576.90 331.38L578.90 329.81L580.90 328.25L582.90 326.69L584.90 325.14L586.90 323.59L588.90 322.04L590.90 320.50L592.90 318.96L594.90 317.43L596.90 315.90L598.90 314.38L600.90 312.85L602.90 311.34L604.90 309.83L606.90 308.32L608.90 306.81L610.90 305.32L612.90 303.82L614.90 302.33L616.90 300.85L618.90 299.37L620.90 297.90L622.90 296.43L624.90 294.97L626.90 293.51L628.90 292.06L630.90 290.61L632.90 289.17L634.90 287.73L636.90 286.30L638.90 284.88L640.90 283.46L642.90 282.04L644.90 280.64L646.90 279.23L648.90 277.84L650.90 276.45L652.90 275.06L654.90 273.68L656.90 272.30L658.90 270.93L660.90 269.57L662.90 268.21L664.90 266.85L666.90 265.50L668.90 264.16L670.90 262.82L672.90 261.49L674.90 260.16L676.90 258.83L678.90 257.51L680.90 256.20L682.90 254.88L684.90 253.58L686.90 252.28L688.90 250.98L690.90 249.69L692.90 248.40L694.90 247.12L696.90 245.84L698.90 244.57L700.90 243.30L702.90 242.03L704.90 240.77L706.90 239.51L708.90 238.26L710.90 237.01L712.90 235.77L714.90 234.53L716.90 233.29L718.90 232.06L720.90 230.83L722.90 229.60L724.90 228.38L726.90 227.17L728.90 225.95L730.90 224.74L732.90 223.54L734.90 222.34L736.90 221.14L738.90 219.94L740.90 218.75L742.90 217.56L744.90 216.38L746.90 215.20L748.90 214.02L750.90 212.85L752.90 211.68L754.90 210.51L756.90 209.34L758.90 208.18L760.90 207.02L762.90 205.87L764.90 204.72L766.90 203.57L768.90 202.42L770.90 201.28L772.90 200.14L774.90 199.00L776.90 197.86L778.90 196.73L780.90 195.60L782.90 194.48L784.90 193.35L786.90 192.23" stroke="#f00" stroke-width="1.5" stroke-linejoin="round" fill="none" /></g>
<rect x="115.7" y="70.2" width="671.20" height="506.60" fill="none" stroke="#000" stroke-width="1.55" stroke-linejoin="round"/>
<text transform="translate(70.31,434.10) scale(1.1136,1)" font-family="Liberation Serif" font-style="normal" font-weight="normal" font-size="23.31" fill="#000" stroke="#000" stroke-width="0.22" stroke-linejoin="round">0</text><text transform="translate(83.64,434.10) scale(0.9128,1)" font-family="Liberation Serif" font-style="normal" font-weight="normal" font-size="25.96" fill="#000" stroke="#000" stroke-width="0.22" stroke-linejoin="round">.</text><text transform="translate(90.39,434.10) scale(1.1721,1)" font-family="Liberation Serif" font-style="normal" font-weight="normal" font-size="23.41" fill="#000" stroke="#000" stroke-width="0.22" stroke-linejoin="round">2</text>
<text transform="translate(70.31,275.79) scale(1.1136,1)" font-family="Liberation Serif" font-style="normal" font-weight="normal" font-size="23.31" fill="#000" stroke="#000" stroke-width="0.22" stroke-linejoin="round">0</text><text transform="translate(83.64,275.79) scale(0.9128,1)" font-family="Liberation Serif" font-style="normal" font-weight="normal" font-size="25.96" fill="#000" stroke="#000" stroke-width="0.22" stroke-linejoin="round">.</text><text transform="translate(91.14,275.79) scale(1.0049,1)" font-family="Liberation Serif" font-style="normal" font-weight="normal" font-size="23.55" fill="#000" stroke="#000" stroke-width="0.22" stroke-linejoin="round">4</text>
<text transform="translate(70.31,117.48) scale(1.1136,1)" font-family="Liberation Serif" font-style="normal" font-weight="normal" font-size="23.31" fill="#000" stroke="#000" stroke-width="0.22" stroke-linejoin="round">0</text><text transform="translate(83.64,117.48) scale(0.9128,1)" font-family="Liberation Serif" font-style="normal" font-weight="normal" font-size="25.96" fill="#000" stroke="#000" stroke-width="0.22" stroke-linejoin="round">.</text><text transform="translate(90.49,117.48) scale(1.0998,1)" font-family="Liberation Serif" font-style="normal" font-weight="normal" font-size="23.41" fill="#000" stroke="#000" stroke-width="0.22" stroke-linejoin="round">6</text>
<text transform="translate(177.31,603.35) scale(1.1136,1)" font-family="Liberation Serif" font-style="normal" font-weight="normal" font-size="23.31" fill="#000" stroke="#000" stroke-width="0.22" stroke-linejoin="round">0</text><text transform="translate(190.64,603.35) scale(0.9128,1)" font-family="Liberation Serif" font-style="normal" font-weight="normal" font-size="25.96" fill="#000" stroke="#000" stroke-width="0.22" stroke-linejoin="round">.</text><text transform="translate(199.18,603.35) scale(0.8512,1)" font-family="Liberation Serif" font-style="normal" font-weight="normal" font-size="23.02" fill="#000" stroke="#000" stroke-width="0.22" stroke-linejoin="round">1</text>
<text transform="translate(387.38,603.35) scale(0.8512,1)" font-family="Liberation Serif" font-style="normal" font-weight="normal" font-size="23.02" fill="#000" stroke="#000" stroke-width="0.22" stroke-linejoin="round">1</text>
<text transform="translate(577.58,603.35) scale(0.8512,1)" font-family="Liberation Serif" font-style="normal" font-weight="normal" font-size="23.02" fill="#000" stroke="#000" stroke-width="0.22" stroke-linejoin="round">1</text><text transform="translate(589.31,603.35) scale(1.1136,1)" font-family="Liberation Serif" font-style="normal" font-weight="normal" font-size="23.31" fill="#000" stroke="#000" stroke-width="0.22" stroke-linejoin="round">0</text>
<text transform="translate(768.88,603.35) scale(0.8512,1)" font-family="Liberation Serif" font-style="normal" font-weight="normal" font-size="23.02" fill="#000" stroke="#000" stroke-width="0.22" stroke-linejoin="round">1</text><text transform="translate(780.61,603.35) scale(1.1136,1)" font-family="Liberation Serif" font-style="normal" font-weight="normal" font-size="23.31" fill="#000" stroke="#000" stroke-width="0.22" stroke-linejoin="round">0</text><text transform="translate(793.91,603.35) scale(1.1136,1)" font-family="Liberation Serif" font-style="normal" font-weight="normal" font-size="23.31" fill="#000" stroke="#000" stroke-width="0.22" stroke-linejoin="round">0</text>
<path d="M558.9 374.00H596.9" stroke="#000" stroke-width="1.5" fill="none" />
<text transform="translate(622.59,381.30) scale(0.9165,1)" font-family="Liberation Serif" font-style="normal" font-weight="normal" font-size="22.48" fill="#000" stroke="#000" stroke-width="0.32" stroke-linejoin="round">l</text><path d="M631.90 372.60h12.2M631.90 376.10h12.2" stroke="#000" stroke-width="1.45" fill="none"/><text transform="translate(646.91,381.30) scale(1.1064,1)" font-family="Liberation Serif" font-style="normal" font-weight="normal" font-size="23.46" fill="#000" stroke="#000" stroke-width="0.32" stroke-linejoin="round">0</text><text transform="translate(660.50,380.65) scale(1.1835,1)" font-family="Liberation Serif" font-style="normal" font-weight="normal" font-size="19.86" fill="#000" stroke="#000" stroke-width="0.16" stroke-linejoin="round">,</text><text transform="translate(668.20,381.30) scale(1.0800,1)" font-family="Liberation Serif" font-style="normal" font-weight="normal" font-size="22.05" fill="#000" stroke="#000" stroke-width="0.32" stroke-linejoin="round">b</text><path d="M683.50 372.60h12.2M683.50 376.10h12.2" stroke="#000" stroke-width="1.45" fill="none"/><text transform="translate(698.23,381.30) scale(1.1302,1)" font-family="Liberation Serif" font-style="normal" font-weight="normal" font-size="23.56" fill="#000" stroke="#000" stroke-width="0.32" stroke-linejoin="round">3</text>
<path d="M558.9 399.30H596.9" stroke="#f00" stroke-width="1.5" fill="none" />
<text transform="translate(622.59,406.60) scale(0.9165,1)" font-family="Liberation Serif" font-style="normal" font-weight="normal" font-size="22.48" fill="#f00" stroke="#f00" stroke-width="0.32" stroke-linejoin="round">l</text><path d="M631.90 397.90h12.2M631.90 401.40h12.2" stroke="#f00" stroke-width="1.45" fill="none"/><text transform="translate(646.31,406.60) scale(1.1462,1)" font-family="Liberation Serif" font-style="normal" font-weight="normal" font-size="23.82" fill="#f00" stroke="#f00" stroke-width="0.32" stroke-linejoin="round">5</text><text transform="translate(660.50,405.95) scale(1.1835,1)" font-family="Liberation Serif" font-style="normal" font-weight="normal" font-size="19.86" fill="#f00" stroke="#f00" stroke-width="0.16" stroke-linejoin="round">,</text><text transform="translate(668.20,406.60) scale(1.0800,1)" font-family="Liberation Serif" font-style="normal" font-weight="normal" font-size="22.05" fill="#f00" stroke="#f00" stroke-width="0.32" stroke-linejoin="round">b</text><path d="M683.50 397.90h12.2M683.50 401.40h12.2" stroke="#f00" stroke-width="1.45" fill="none"/><text transform="translate(698.51,406.60) scale(1.1064,1)" font-family="Liberation Serif" font-style="normal" font-weight="normal" font-size="23.46" fill="#f00" stroke="#f00" stroke-width="0.32" stroke-linejoin="round">0</text>
<path d="M558.9 424.80H596.9" stroke="#00f" stroke-width="1.5" fill="none" />
<text transform="translate(622.59,432.10) scale(0.9165,1)" font-family="Liberation Serif" font-style="normal" font-weight="normal" font-size="22.48" fill="#00f" stroke="#00f" stroke-width="0.32" stroke-linejoin="round">l</text><path d="M631.90 423.40h12.2M631.90 426.90h12.2" stroke="#00f" stroke-width="1.45" fill="none"/><text transform="translate(646.79,432.10) scale(1.0927,1)" font-family="Liberation Serif" font-style="normal" font-weight="normal" font-size="23.56" fill="#00f" stroke="#00f" stroke-width="0.32" stroke-linejoin="round">6</text><text transform="translate(660.21,432.10) scale(1.1064,1)" font-family="Liberation Serif" font-style="normal" font-weight="normal" font-size="23.46" fill="#00f" stroke="#00f" stroke-width="0.32" stroke-linejoin="round">0</text><text transform="translate(673.80,431.45) scale(1.1835,1)" font-family="Liberation Serif" font-style="normal" font-weight="normal" font-size="19.86" fill="#00f" stroke="#00f" stroke-width="0.16" stroke-linejoin="round">,</text><text transform="translate(681.50,432.10) scale(1.0800,1)" font-family="Liberation Serif" font-style="normal" font-weight="normal" font-size="22.05" fill="#00f" stroke="#00f" stroke-width="0.32" stroke-linejoin="round">b</text><path d="M696.80 423.40h12.2M696.80 426.90h12.2" stroke="#00f" stroke-width="1.45" fill="none"/><text transform="translate(711.81,432.10) scale(1.1064,1)" font-family="Liberation Serif" font-style="normal" font-weight="normal" font-size="23.46" fill="#00f" stroke="#00f" stroke-width="0.32" stroke-linejoin="round">0</text>
<path d="M558.9 449.90H596.9" stroke="#000" stroke-width="1.5" fill="none" stroke-dasharray="11.7 7.7"/>
<text transform="translate(622.59,457.20) scale(0.9165,1)" font-family="Liberation Serif" font-style="normal" font-weight="normal" font-size="22.48" fill="#000" stroke="#000" stroke-width="0.32" stroke-linejoin="round">l</text><path d="M631.90 448.50h12.2M631.90 452.00h12.2" stroke="#000" stroke-width="1.45" fill="none"/><text transform="translate(648.48,457.20) scale(0.8457,1)" font-family="Liberation Serif" font-style="normal" font-weight="normal" font-size="23.18" fill="#000" stroke="#000" stroke-width="0.32" stroke-linejoin="round">1</text><text transform="translate(659.61,457.20) scale(1.1462,1)" font-family="Liberation Serif" font-style="normal" font-weight="normal" font-size="23.82" fill="#000" stroke="#000" stroke-width="0.32" stroke-linejoin="round">5</text><text transform="translate(673.51,457.20) scale(1.1064,1)" font-family="Liberation Serif" font-style="normal" font-weight="normal" font-size="23.46" fill="#000" stroke="#000" stroke-width="0.32" stroke-linejoin="round">0</text><text transform="translate(687.10,456.55) scale(1.1835,1)" font-family="Liberation Serif" font-style="normal" font-weight="normal" font-size="19.86" fill="#000" stroke="#000" stroke-width="0.16" stroke-linejoin="round">,</text><text transform="translate(694.80,457.20) scale(1.0800,1)" font-family="Liberation Serif" font-style="normal" font-weight="normal" font-size="22.05" fill="#000" stroke="#000" stroke-width="0.32" stroke-linejoin="round">b</text><path d="M710.10 448.50h12.2M710.10 452.00h12.2" stroke="#000" stroke-width="1.45" fill="none"/><text transform="translate(725.11,457.20) scale(1.1064,1)" font-family="Liberation Serif" font-style="normal" font-weight="normal" font-size="23.46" fill="#000" stroke="#000" stroke-width="0.32" stroke-linejoin="round">0</text>
<path d="M558.9 475.30H596.9" stroke="#f0f" stroke-width="1.5" fill="none" />
<text transform="translate(622.59,482.60) scale(0.9165,1)" font-family="Liberation Serif" font-style="normal" font-weight="normal" font-size="22.48" fill="#f0f" stroke="#f0f" stroke-width="0.32" stroke-linejoin="round">l</text><path d="M631.90 473.90h12.2M631.90 477.40h12.2" stroke="#f0f" stroke-width="1.45" fill="none"/><text transform="translate(646.79,482.60) scale(1.0927,1)" font-family="Liberation Serif" font-style="normal" font-weight="normal" font-size="23.56" fill="#f0f" stroke="#f0f" stroke-width="0.32" stroke-linejoin="round">6</text><text transform="translate(660.21,482.60) scale(1.1064,1)" font-family="Liberation Serif" font-style="normal" font-weight="normal" font-size="23.46" fill="#f0f" stroke="#f0f" stroke-width="0.32" stroke-linejoin="round">0</text><text transform="translate(673.80,481.95) scale(1.1835,1)" font-family="Liberation Serif" font-style="normal" font-weight="normal" font-size="19.86" fill="#f0f" stroke="#f0f" stroke-width="0.16" stroke-linejoin="round">,</text><text transform="translate(681.50,482.60) scale(1.0800,1)" font-family="Liberation Serif" font-style="normal" font-weight="normal" font-size="22.05" fill="#f0f" stroke="#f0f" stroke-width="0.32" stroke-linejoin="round">b</text><path d="M696.80 473.90h12.2M696.80 477.40h12.2" stroke="#f0f" stroke-width="1.45" fill="none"/><text transform="translate(712.34,482.60) scale(0.9984,1)" font-family="Liberation Serif" font-style="normal" font-weight="normal" font-size="23.70" fill="#f0f" stroke="#f0f" stroke-width="0.32" stroke-linejoin="round">4</text><text transform="translate(724.51,482.60) scale(1.1462,1)" font-family="Liberation Serif" font-style="normal" font-weight="normal" font-size="23.82" fill="#f0f" stroke="#f0f" stroke-width="0.32" stroke-linejoin="round">5</text>
<path d="M558.8 500.60H596.9" stroke="#000" stroke-width="1.8" fill="none" stroke-dasharray="2.2 4.07"/>
<text transform="translate(622.59,507.90) scale(0.9165,1)" font-family="Liberation Serif" font-style="normal" font-weight="normal" font-size="22.48" fill="#000" stroke="#000" stroke-width="0.32" stroke-linejoin="round">l</text><path d="M631.90 499.20h12.2M631.90 502.70h12.2" stroke="#000" stroke-width="1.45" fill="none"/><text transform="translate(646.91,507.90) scale(1.1064,1)" font-family="Liberation Serif" font-style="normal" font-weight="normal" font-size="23.46" fill="#000" stroke="#000" stroke-width="0.32" stroke-linejoin="round">0</text><text transform="translate(660.50,507.25) scale(1.1835,1)" font-family="Liberation Serif" font-style="normal" font-weight="normal" font-size="19.86" fill="#000" stroke="#000" stroke-width="0.16" stroke-linejoin="round">,</text><text transform="translate(668.20,507.90) scale(1.0800,1)" font-family="Liberation Serif" font-style="normal" font-weight="normal" font-size="22.05" fill="#000" stroke="#000" stroke-width="0.32" stroke-linejoin="round">b</text><path d="M683.50 499.20h12.2M683.50 502.70h12.2" stroke="#000" stroke-width="1.45" fill="none"/><text transform="translate(698.51,507.90) scale(1.1064,1)" font-family="Liberation Serif" font-style="normal" font-weight="normal" font-size="23.46" fill="#000" stroke="#000" stroke-width="0.32" stroke-linejoin="round">8</text><text transform="translate(711.97,507.90) scale(1.0940,1)" font-family="Liberation Serif" font-style="normal" font-weight="normal" font-size="23.56" fill="#000" stroke="#000" stroke-width="0.32" stroke-linejoin="round">9</text>
<text transform="translate(410.69,630.10) scale(1.3467,1)" font-family="Liberation Serif" font-style="italic" font-weight="normal" font-size="20.48" fill="#000" stroke="#000" stroke-width="0.3" stroke-linejoin="round">τ</text>
<text transform="translate(425.11,629.65) scale(1.0483,1)" font-family="Liberation Serif" font-style="normal" font-weight="normal" font-size="19.86" fill="#000" stroke="#000" stroke-width="0.15" stroke-linejoin="round">,</text>
<text transform="translate(440.68,630.10) scale(1.2292,1)" font-family="Liberation Serif" font-style="normal" font-weight="normal" font-size="21.35" fill="#000" stroke="#000" stroke-width="0.3" stroke-linejoin="round">y</text>
<text transform="translate(453.93,630.10) scale(1.2858,1)" font-family="Liberation Serif" font-style="normal" font-weight="normal" font-size="21.22" fill="#000" stroke="#000" stroke-width="0.3" stroke-linejoin="round">e</text>
<text transform="translate(465.93,630.10) scale(1.4255,1)" font-family="Liberation Serif" font-style="normal" font-weight="normal" font-size="21.31" fill="#000" stroke="#000" stroke-width="0.3" stroke-linejoin="round">a</text>
<text transform="translate(479.87,630.10) scale(1.4715,1)" font-family="Liberation Serif" font-style="normal" font-weight="normal" font-size="21.22" fill="#000" stroke="#000" stroke-width="0.3" stroke-linejoin="round">r</text>
<text transform="translate(491.73,630.10) scale(1.3441,1)" font-family="Liberation Serif" font-style="normal" font-weight="normal" font-size="21.22" fill="#000" stroke="#000" stroke-width="0.3" stroke-linejoin="round">s</text>
<g transform="rotate(-90)"><text transform="translate(-361.71,53.09) scale(0.9217,1)" font-family="Liberation Serif" font-style="normal" font-weight="normal" font-size="24.92" fill="#000" stroke="#000" stroke-width="0.3" stroke-linejoin="round">(</text><text transform="translate(-351.35,54.00) scale(0.8036,1)" font-family="Liberation Serif" font-style="normal" font-weight="normal" font-size="23.33" fill="#000" stroke="#000" stroke-width="0.22" stroke-linejoin="round">1</text><path d="M-337.40 47.1H-325.10" stroke="#000" stroke-width="1.5"/><text transform="translate(-322.51,54.00) scale(0.8948,1)" font-family="Liberation Serif" font-style="normal" font-weight="normal" font-size="23.52" fill="#000" stroke="#000" stroke-width="0.22" stroke-linejoin="round">R</text><path d="M-322.90 36.1H-307.80" stroke="#000" stroke-width="1.5"/><text transform="translate(-307.02,53.09) scale(0.8904,1)" font-family="Liberation Serif" font-style="normal" font-weight="normal" font-size="24.92" fill="#000" stroke="#000" stroke-width="0.3" stroke-linejoin="round">)</text><text transform="translate(-297.27,47.60) scale(0.7539,1)" font-family="Liberation Serif" font-style="normal" font-weight="normal" font-size="14.69" fill="#000" stroke="#000" stroke-width="0.22" stroke-linejoin="round">1</text><text transform="translate(-290.00,49.51) scale(1.4446,1)" font-family="Liberation Serif" font-style="normal" font-weight="normal" font-size="19.43" fill="#000" stroke="#000" stroke-width="0.3" stroke-linejoin="round">/</text><text transform="translate(-281.71,47.60) scale(1.1479,1)" font-family="Liberation Serif" font-style="normal" font-weight="normal" font-size="15.10" fill="#000" stroke="#000" stroke-width="0.22" stroke-linejoin="round">2</text></g>
</svg>
</body></html>
